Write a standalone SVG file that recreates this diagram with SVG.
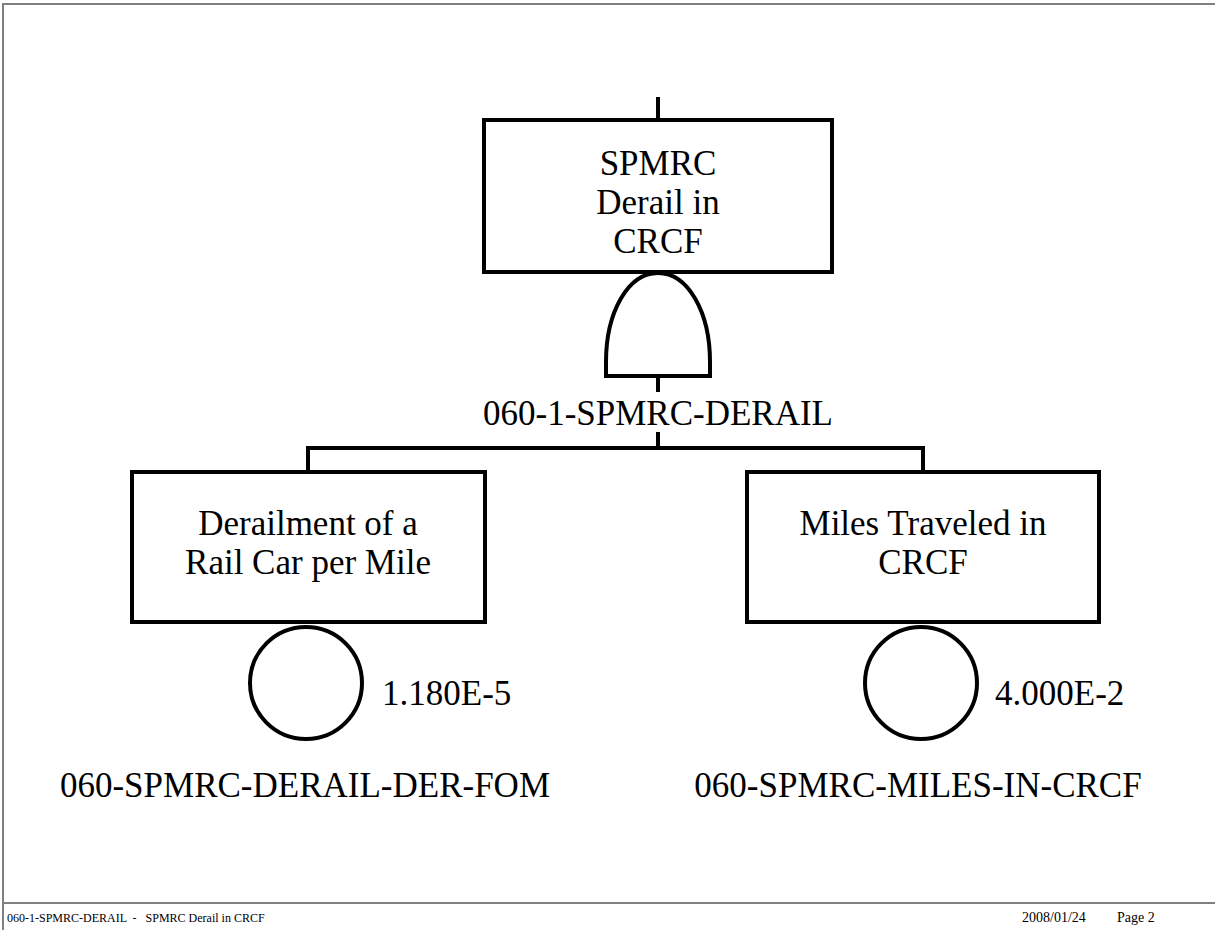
<svg xmlns="http://www.w3.org/2000/svg" width="1215" height="930" viewBox="0 0 1215 930">
<style>
.b{fill:#fff;stroke:#000;stroke-width:4}
.c{fill:none;stroke:#000;stroke-width:4}
text{font-family:'Liberation Serif','Times New Roman',serif;fill:#000}
.t{font-size:35px;text-anchor:middle}
.v{font-size:35px}
.f{font-size:12px;white-space:pre}
.r{font-size:14px;white-space:pre}
.pg{stroke:#808080;stroke-width:2;fill:none}
</style>
<rect width="1215" height="930" fill="#fff"/>
<g id="page">
<path class="pg" d="M3,930 V4 H1215"/>
<path class="pg" d="M3,903 H1215"/>
</g>
<g id="connectors">
<path class="c" d="M658,97 V120"/>
<path class="c" d="M658,376 V392"/>
<path class="c" d="M658,432 V448"/>
<path class="c" d="M308,472 V448 H923 V472"/>
</g>
<g id="top-event">
<rect class="b" x="484" y="120" width="348" height="152"/>
<text class="t" x="658" y="175">SPMRC</text>
<text class="t" x="658" y="214">Derail in</text>
<text class="t" x="658" y="253">CRCF</text>
</g>
<g id="gate-and">
<path class="b" d="M606,376 V362 C606,312 628,273 658,273 C688,273 710,312 710,362 V376 Z"/>
<text class="t" x="658" y="425">060-1-SPMRC-DERAIL</text>
</g>
<g id="event-derailment">
<rect class="b" x="132" y="472" width="353" height="150"/>
<text class="t" x="308" y="535">Derailment of a</text>
<text class="t" x="308" y="574">Rail Car per Mile</text>
</g>
<g id="basic-derailment">
<circle class="b" cx="306" cy="683" r="56"/>
<text class="v" x="382" y="705">1.180E-5</text>
<text class="t" x="305" y="797">060-SPMRC-DERAIL-DER-FOM</text>
</g>
<g id="event-miles">
<rect class="b" x="747" y="472" width="352" height="150"/>
<text class="t" x="923" y="535">Miles Traveled in</text>
<text class="t" x="923" y="574">CRCF</text>
</g>
<g id="basic-miles">
<circle class="b" cx="921" cy="683" r="56"/>
<text class="v" x="995" y="705">4.000E-2</text>
<text class="t" x="918" y="797">060-SPMRC-MILES-IN-CRCF</text>
</g>
<g id="footer">
<text class="f" x="7" y="922">060-1-SPMRC-DERAIL  -   SPMRC Derail in CRCF</text>
<text class="r" x="1022" y="922">2008/01/24</text>
<text class="r" x="1117" y="922">Page 2</text>
</g>
</svg>
